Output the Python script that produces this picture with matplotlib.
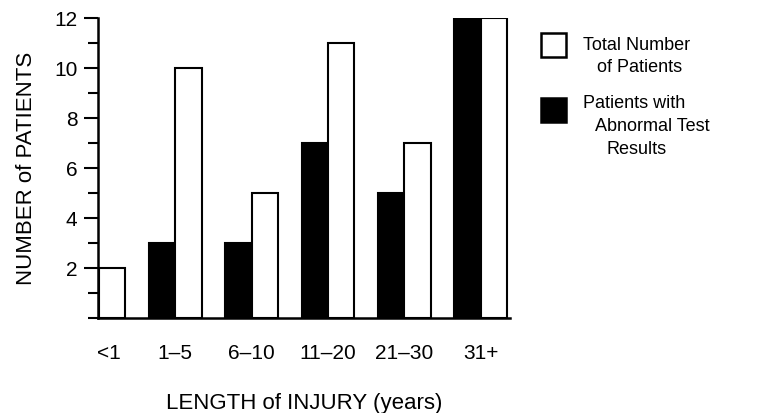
import numpy as np
import matplotlib.pyplot as plt
from matplotlib.patches import Rectangle
from matplotlib.ticker import MultipleLocator

plt.rcParams['font.family'] = ['Liberation Sans', 'DejaVu Sans']

groups = ['<1', '1–5', '6–10', '11–20', '21–30', '31+']
abnormal = [0, 3, 3, 7, 5, 12]
total = [2, 10, 5, 11, 7, 12]

fig = plt.figure(figsize=(7.61, 4.13), dpi=100)
ax = fig.add_axes([0.129, 0.230, 0.541, 0.726])

x = np.arange(len(groups))
w = 0.345
ax.bar(x - w / 2, abnormal, w, color='black', edgecolor='black', linewidth=1.5)
ax.bar(x + w / 2, total, w, color='white', edgecolor='black', linewidth=1.5)

ax.set_xlim(-0.01, 5.38)
ax.set_ylim(0, 12)
ax.yaxis.set_minor_locator(MultipleLocator(1))
ax.set_yticks([2, 4, 6, 8, 10, 12])
ax.tick_params(axis='y', which='major', length=10, width=1.5, labelsize=15, pad=5)
ax.tick_params(axis='y', which='minor', length=7, width=1.5)
ax.set_xticks(x + np.array([0.13, 0, 0, 0, 0, 0]))
ax.set_xticklabels(groups)
ax.tick_params(axis='x', length=0, labelsize=15, pad=19)
for s in ['top', 'right']:
    ax.spines[s].set_visible(False)
for s in ['left', 'bottom']:
    ax.spines[s].set_linewidth(1.8)

ax.set_ylabel('NUMBER of PATIENTS', fontsize=16, labelpad=12)
ax.set_xlabel('LENGTH of INJURY (years)', fontsize=16, labelpad=21)

# legend drawn by hand
W, H = 761, 413
def fx(px):
    return px / W
def fy(py):
    return 1 - py / H

fig.patches.append(Rectangle((fx(541), fy(57)), 25 / W, 24 / H, transform=fig.transFigure,
                             facecolor='white', edgecolor='black', linewidth=1.8))
fig.patches.append(Rectangle((fx(541), fy(122)), 25 / W, 24 / H, transform=fig.transFigure,
                             facecolor='black', edgecolor='black', linewidth=1.8))
fs = 13
fig.text(fx(583), fy(45), 'Total Number', fontsize=fs, va='center')
fig.text(fx(597), fy(68), 'of Patients', fontsize=fs, va='center')
fig.text(fx(583), fy(103), 'Patients with', fontsize=fs, va='center')
fig.text(fx(595), fy(126), 'Abnormal Test', fontsize=fs, va='center')
fig.text(fx(607), fy(149), 'Results', fontsize=fs, va='center')

fig.savefig('out.png', dpi=100)
